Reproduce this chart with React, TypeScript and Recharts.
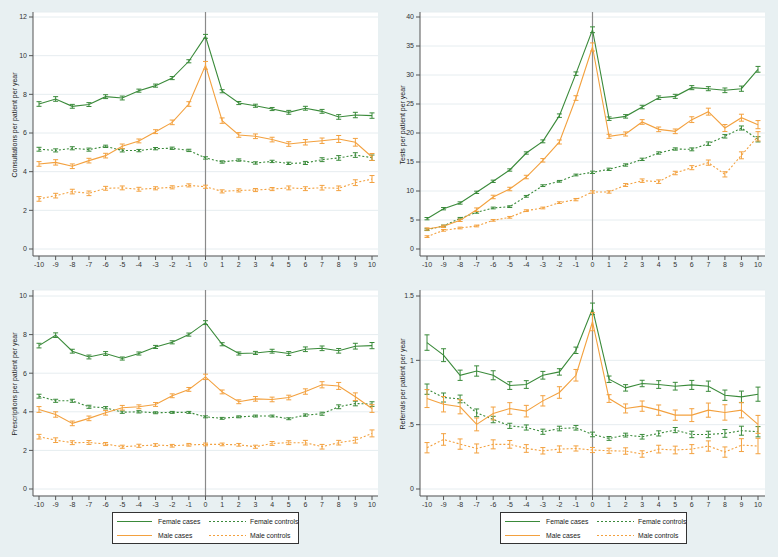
import React from 'react';
import { LineChart, Line, XAxis, YAxis, CartesianGrid, ReferenceLine, ErrorBar } from 'recharts';

const years = [-10, -9, -8, -7, -6, -5, -4, -3, -2, -1, 0, 1, 2, 3, 4, 5, 6, 7, 8, 9, 10];

// Consultations
const consFemaleCases = [7.5, 7.76, 7.38, 7.47, 7.88, 7.81, 8.19, 8.45, 8.84, 9.71, 11.0, 8.16, 7.55, 7.41, 7.24, 7.07, 7.28, 7.12, 6.83, 6.93, 6.9];
const consFemaleCasesErr = [0.12, 0.12, 0.1, 0.1, 0.1, 0.1, 0.08, 0.08, 0.08, 0.08, 0.1, 0.08, 0.08, 0.08, 0.08, 0.1, 0.1, 0.1, 0.12, 0.14, 0.14];
const consMaleCases = [4.4, 4.48, 4.28, 4.57, 4.83, 5.31, 5.59, 6.07, 6.55, 7.5, 9.5, 6.64, 5.9, 5.83, 5.66, 5.43, 5.52, 5.6, 5.69, 5.52, 4.76];
const consMaleCasesErr = [0.12, 0.14, 0.12, 0.12, 0.12, 0.12, 0.1, 0.1, 0.12, 0.12, 0.2, 0.14, 0.12, 0.12, 0.12, 0.12, 0.14, 0.14, 0.18, 0.2, 0.18];
const consFemaleControls = [5.16, 5.1, 5.21, 5.14, 5.31, 5.1, 5.09, 5.19, 5.21, 5.1, 4.71, 4.5, 4.6, 4.45, 4.53, 4.43, 4.45, 4.62, 4.71, 4.86, 4.72];
const consFemaleControlsErr = [0.1, 0.08, 0.08, 0.08, 0.06, 0.08, 0.06, 0.06, 0.06, 0.06, 0.06, 0.06, 0.06, 0.06, 0.06, 0.06, 0.08, 0.1, 0.12, 0.12, 0.14];
const consMaleControls = [2.59, 2.76, 2.97, 2.88, 3.14, 3.16, 3.09, 3.14, 3.19, 3.29, 3.22, 2.98, 3.03, 3.05, 3.1, 3.16, 3.12, 3.17, 3.14, 3.43, 3.62];
const consMaleControlsErr = [0.12, 0.12, 0.12, 0.12, 0.1, 0.1, 0.1, 0.08, 0.08, 0.08, 0.08, 0.08, 0.08, 0.08, 0.08, 0.1, 0.1, 0.12, 0.12, 0.15, 0.18];

// Tests
const testsFemaleCases = [5.23, 6.95, 7.93, 9.77, 11.67, 13.62, 16.55, 18.56, 22.99, 30.23, 37.8, 22.47, 22.87, 24.48, 26.09, 26.32, 27.82, 27.64, 27.36, 27.64, 30.98];
const testsFemaleCasesErr = [0.2, 0.2, 0.2, 0.2, 0.2, 0.2, 0.2, 0.25, 0.3, 0.3, 0.5, 0.3, 0.3, 0.3, 0.3, 0.35, 0.35, 0.35, 0.4, 0.45, 0.5];
const testsMaleCases = [3.45, 3.91, 4.94, 6.78, 8.97, 10.34, 12.41, 15.29, 18.45, 26.03, 34.83, 19.43, 19.83, 21.9, 20.63, 20.29, 22.3, 23.68, 20.86, 22.64, 21.44];
const testsMaleCasesErr = [0.2, 0.2, 0.2, 0.3, 0.3, 0.3, 0.3, 0.3, 0.35, 0.4, 0.7, 0.35, 0.35, 0.4, 0.4, 0.4, 0.5, 0.6, 0.6, 0.6, 0.7];
const testsFemaleControls = [3.33, 3.97, 5.29, 6.32, 7.07, 7.3, 9.08, 10.92, 11.67, 12.76, 13.22, 13.74, 14.48, 15.46, 16.55, 17.24, 17.18, 18.16, 19.43, 20.86, 18.91];
const testsFemaleControlsErr = [0.15, 0.15, 0.15, 0.15, 0.15, 0.15, 0.15, 0.15, 0.15, 0.15, 0.2, 0.2, 0.2, 0.2, 0.2, 0.2, 0.25, 0.3, 0.3, 0.35, 0.45];
const testsMaleControls = [2.13, 3.22, 3.62, 3.97, 4.94, 5.46, 6.61, 7.07, 7.99, 8.51, 9.83, 9.83, 11.03, 11.78, 11.61, 13.1, 14.02, 14.89, 12.87, 16.15, 19.43];
const testsMaleControlsErr = [0.15, 0.15, 0.15, 0.15, 0.15, 0.15, 0.15, 0.15, 0.15, 0.2, 0.2, 0.2, 0.25, 0.3, 0.3, 0.3, 0.35, 0.45, 0.45, 0.6, 0.8];

// Prescriptions
const rxFemaleCases = [7.43, 7.97, 7.14, 6.84, 7.02, 6.76, 7.02, 7.36, 7.6, 8.0, 8.62, 7.5, 7.02, 7.05, 7.14, 7.02, 7.24, 7.29, 7.16, 7.4, 7.43];
const rxFemaleCasesErr = [0.12, 0.12, 0.1, 0.1, 0.1, 0.08, 0.08, 0.08, 0.08, 0.08, 0.1, 0.08, 0.08, 0.08, 0.1, 0.1, 0.12, 0.12, 0.12, 0.15, 0.16];
const rxMaleCases = [4.12, 3.86, 3.4, 3.66, 3.95, 4.21, 4.26, 4.38, 4.83, 5.16, 5.81, 5.03, 4.52, 4.67, 4.64, 4.74, 5.05, 5.4, 5.34, 4.78, 4.17];
const rxMaleCasesErr = [0.15, 0.14, 0.12, 0.12, 0.12, 0.12, 0.1, 0.1, 0.1, 0.1, 0.14, 0.1, 0.1, 0.12, 0.12, 0.12, 0.14, 0.16, 0.18, 0.2, 0.2];
const rxFemaleControls = [4.81, 4.57, 4.57, 4.26, 4.21, 3.98, 4.0, 3.95, 3.97, 3.97, 3.74, 3.66, 3.74, 3.78, 3.78, 3.64, 3.83, 3.9, 4.26, 4.43, 4.4];
const rxFemaleControlsErr = [0.1, 0.08, 0.08, 0.08, 0.06, 0.06, 0.06, 0.05, 0.05, 0.05, 0.05, 0.05, 0.05, 0.05, 0.05, 0.05, 0.06, 0.08, 0.1, 0.12, 0.12];
const rxMaleControls = [2.71, 2.53, 2.4, 2.41, 2.33, 2.19, 2.24, 2.28, 2.24, 2.29, 2.31, 2.31, 2.29, 2.19, 2.36, 2.4, 2.4, 2.19, 2.4, 2.53, 2.88];
const rxMaleControlsErr = [0.12, 0.12, 0.1, 0.1, 0.08, 0.08, 0.08, 0.07, 0.07, 0.07, 0.07, 0.07, 0.07, 0.08, 0.1, 0.1, 0.12, 0.12, 0.12, 0.15, 0.18];

// Referrals
const refFemaleCases = [1.138, 1.04, 0.884, 0.917, 0.884, 0.804, 0.812, 0.884, 0.91, 1.078, 1.4, 0.853, 0.786, 0.82, 0.812, 0.799, 0.809, 0.799, 0.729, 0.716, 0.737];
const refFemaleCasesErr = [0.06, 0.05, 0.04, 0.04, 0.035, 0.03, 0.03, 0.03, 0.025, 0.025, 0.045, 0.025, 0.025, 0.025, 0.03, 0.03, 0.035, 0.04, 0.04, 0.045, 0.055];
const refMaleCases = [0.703, 0.659, 0.639, 0.502, 0.587, 0.626, 0.605, 0.685, 0.75, 0.884, 1.3, 0.703, 0.626, 0.644, 0.613, 0.574, 0.574, 0.613, 0.595, 0.613, 0.502];
const refMaleCasesErr = [0.07, 0.06, 0.055, 0.05, 0.05, 0.045, 0.045, 0.04, 0.045, 0.045, 0.07, 0.03, 0.035, 0.04, 0.04, 0.04, 0.05, 0.055, 0.06, 0.06, 0.07];
const refFemaleControls = [0.776, 0.711, 0.7, 0.592, 0.54, 0.491, 0.478, 0.445, 0.47, 0.476, 0.424, 0.393, 0.419, 0.406, 0.432, 0.458, 0.424, 0.424, 0.432, 0.453, 0.445];
const refFemaleControlsErr = [0.04, 0.035, 0.03, 0.03, 0.025, 0.02, 0.02, 0.02, 0.018, 0.018, 0.018, 0.015, 0.015, 0.018, 0.02, 0.02, 0.025, 0.025, 0.03, 0.035, 0.04];
const refMaleControls = [0.321, 0.385, 0.349, 0.315, 0.347, 0.347, 0.315, 0.297, 0.31, 0.315, 0.303, 0.297, 0.295, 0.272, 0.31, 0.303, 0.31, 0.334, 0.287, 0.341, 0.334];
const refMaleControlsErr = [0.04, 0.045, 0.04, 0.035, 0.035, 0.03, 0.03, 0.025, 0.025, 0.02, 0.02, 0.02, 0.025, 0.025, 0.03, 0.03, 0.035, 0.04, 0.04, 0.05, 0.06];

const consTicks = [0, 2, 4, 6, 8, 10, 12];
const testsTicks = [0, 5, 10, 15, 20, 25, 30, 35, 40];
const rxTicks = [0, 2, 4, 6, 8, 10];
const refTicks = [0, 0.5, 1, 1.5];
const refTickLabels = ['0', '.5', '1', '1.5'];

const GREEN = '#3a8a3a';
const ORANGE = '#f3a13f';
const FONT = '"Liberation Sans", Arial, sans-serif';
const DASH = '2 2';

const seriesDefs = [
  { key: 'fc', name: 'Female cases', color: GREEN, dash: undefined as string | undefined },
  { key: 'fk', name: 'Female controls', color: GREEN, dash: DASH },
  { key: 'mc', name: 'Male cases', color: ORANGE, dash: undefined as string | undefined },
  { key: 'mk', name: 'Male controls', color: ORANGE, dash: DASH },
];

function buildRows(fc: number[], fcE: number[], fk: number[], fkE: number[], mc: number[], mcE: number[], mk: number[], mkE: number[]) {
  return years.map((year, i) => ({
    year,
    fc: fc[i], fcE: fcE[i],
    fk: fk[i], fkE: fkE[i],
    mc: mc[i], mcE: mcE[i],
    mk: mk[i], mkE: mkE[i],
  }));
}

const consRows = buildRows(consFemaleCases, consFemaleCasesErr, consFemaleControls, consFemaleControlsErr, consMaleCases, consMaleCasesErr, consMaleControls, consMaleControlsErr);
const testsRows = buildRows(testsFemaleCases, testsFemaleCasesErr, testsFemaleControls, testsFemaleControlsErr, testsMaleCases, testsMaleCasesErr, testsMaleControls, testsMaleControlsErr);
const rxRows = buildRows(rxFemaleCases, rxFemaleCasesErr, rxFemaleControls, rxFemaleControlsErr, rxMaleCases, rxMaleCasesErr, rxMaleControls, rxMaleControlsErr);
const refRows = buildRows(refFemaleCases, refFemaleCasesErr, refFemaleControls, refFemaleControlsErr, refMaleCases, refMaleCasesErr, refMaleControls, refMaleControlsErr);

const YLabel = (props: any) => {
  const vb = props.viewBox || { x: 0, y: 12, width: 33, height: 244 };
  const bx = props.bx;
  const cy = vb.y + vb.height / 2 - 9;
  return (
    <text x={bx} y={cy} transform={`rotate(-90 ${bx} ${cy})`} textAnchor="middle" fontSize={7} fill="#222" fontFamily={FONT}>
      {props.text}
    </text>
  );
};

type PanelProps = {
  left: number; top: number; width: number; height: number;
  margin: { top: number; right: number; bottom: number; left: number };
  yAxisWidth: number; xPad: number; yPadTop: number; yPadBottom: number;
  domain: [number, number]; ticks: number[]; fmt?: (v: number) => string;
  label: string; labelX: number; rows: any[];
};

function Panel(p: PanelProps) {
  const tickStyle = { fontSize: 7, fill: '#333', fontFamily: FONT };
  return (
    <div style={{ position: 'absolute', left: p.left, top: p.top }}>
      <LineChart width={p.width} height={p.height} data={p.rows} margin={p.margin}>
        <CartesianGrid vertical={false} stroke="#e6edf0" fill="#ffffff" />
        <XAxis
          dataKey="year" type="number" domain={[-10, 10]} ticks={years} interval={0}
          padding={{ left: p.xPad, right: p.xPad }} height={20} tickSize={4}
          tick={tickStyle} axisLine={{ stroke: '#555' }} tickLine={{ stroke: '#555' }}
        />
        <YAxis
          type="number" domain={p.domain} ticks={p.ticks} interval={0} tickFormatter={p.fmt}
          width={p.yAxisWidth} padding={{ top: p.yPadTop, bottom: p.yPadBottom }} tickSize={4}
          tick={tickStyle} axisLine={{ stroke: '#555' }} tickLine={{ stroke: '#555' }}
          label={{ content: (lp: any) => <YLabel {...lp} text={p.label} bx={p.labelX} /> } as any}
        />
        <ReferenceLine x={0} stroke="#8a8a8a" strokeWidth={1.2} />
        {seriesDefs.map((s) => (
          <Line
            key={s.key} type="linear" dataKey={s.key} name={s.name} stroke={s.color} strokeWidth={1.1}
            strokeDasharray={s.dash} dot={false} activeDot={false} isAnimationActive={false}
          >
            <ErrorBar dataKey={s.key + 'E'} width={2.5} stroke={s.color} strokeWidth={1} direction="y" />
          </Line>
        ))}
      </LineChart>
    </div>
  );
}

function LegendBox({ left, top }: { left: number; top: number }) {
  return (
    <svg style={{ position: 'absolute', left, top }} width={188} height={33}>
      <rect x={0.5} y={0.5} width={186} height={31} fill="#ffffff" stroke="#333" strokeWidth={1} />
      {seriesDefs.map((s, i) => {
        const col = i % 2;
        const row = Math.floor(i / 2);
        const cy = 9.5 + row * 14;
        const x1 = col === 0 ? 5 : 97;
        const x2 = col === 0 ? 40 : 134;
        const tx = col === 0 ? 46 : 138;
        return (
          <g key={s.key}>
            <line x1={x1} y1={cy} x2={x2} y2={cy} stroke={s.color} strokeWidth={1.1} strokeDasharray={s.dash} />
            <text x={tx} y={cy + 2.5} fontSize={6.8} fill="#222" fontFamily={FONT}>{s.name}</text>
          </g>
        );
      })}
    </svg>
  );
}

export default function App() {
  return (
    <div style={{ position: 'fixed', left: 0, top: 0, width: 778, height: 557, background: '#e8f0f2', overflow: 'hidden' }}>
      <Panel left={0} top={0} width={389} height={280} margin={{ top: 12, right: 11, bottom: 4, left: 0 }}
        yAxisWidth={33} xPad={6} yPadTop={5} yPadBottom={7} domain={[0, 12]} ticks={consTicks}
        label="Consultations per patient per year" labelX={17} rows={consRows} />
      <Panel left={389} top={0} width={389} height={280} margin={{ top: 12, right: 13, bottom: 4, left: 0 }}
        yAxisWidth={31} xPad={7} yPadTop={5} yPadBottom={7} domain={[0, 40]} ticks={testsTicks}
        label="Tests per patient per year" labelX={16} rows={testsRows} />
      <Panel left={0} top={280} width={389} height={240} margin={{ top: 10, right: 11, bottom: 4, left: 0 }}
        yAxisWidth={33} xPad={6} yPadTop={6} yPadBottom={7} domain={[0, 10]} ticks={rxTicks}
        label="Prescriptions per patient per year" labelX={17} rows={rxRows} />
      <Panel left={389} top={280} width={389} height={240} margin={{ top: 10, right: 13, bottom: 4, left: 0 }}
        yAxisWidth={31} xPad={7} yPadTop={6} yPadBottom={7} domain={[0, 1.5]} ticks={refTicks}
        fmt={(v: number) => refTickLabels[refTicks.indexOf(v)] ?? String(v)}
        label="Referrals per patient per year" labelX={16} rows={refRows} />
      <LegendBox left={112} top={512} />
      <LegendBox left={500} top={512} />
    </div>
  );
}
